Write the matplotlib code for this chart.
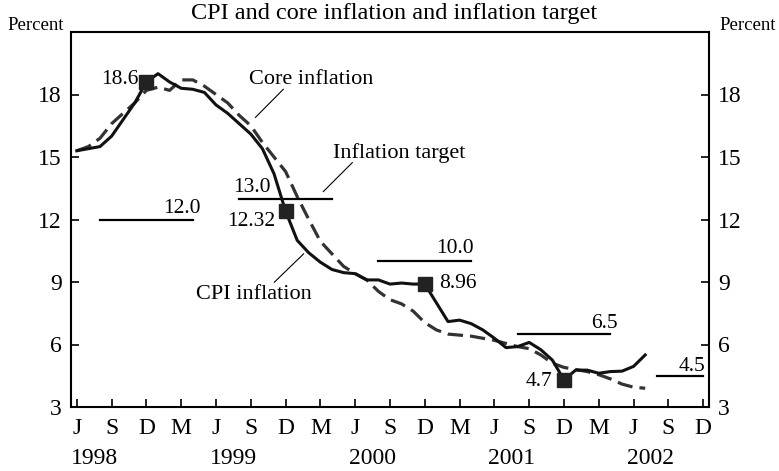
import matplotlib
matplotlib.use("Agg")
import matplotlib.pyplot as plt
import matplotlib.transforms as mtransforms

plt.rcParams['font.family'] = ['Liberation Serif', 'DejaVu Serif']

# Month index 0 = June 1998
months = list(range(50))
cpi = [15.3, 15.4, 15.5, 16.0, 16.8, 17.6, 18.6, 19.0, 18.6, 18.3,
       18.25, 18.1, 17.5, 17.1, 16.6, 16.1, 15.4, 14.2, 12.4, 11.0,
       10.4, 9.95, 9.6, 9.45, 9.4, 9.1, 9.1, 8.9, 8.95, 8.9,
       8.9, 8.0, 7.1, 7.17, 7.0, 6.7, 6.3, 5.85, 5.9, 6.1,
       5.75, 5.25, 4.3, 4.77, 4.77, 4.62, 4.7, 4.72, 4.95, 5.5]
core = [15.3, 15.5, 15.9, 16.6, 17.1, 17.6, 18.2, 18.35, 18.2, 18.7,
        18.7, 18.4, 18.0, 17.6, 17.0, 16.5, 15.7, 15.0, 14.3, 13.1,
        12.0, 10.95, 10.35, 9.75, 9.4, 9.1, 8.55, 8.15, 7.95, 7.6,
        7.05, 6.7, 6.5, 6.45, 6.4, 6.3, 6.2, 6.05, 5.9, 5.8,
        5.5, 5.1, 4.9, 4.8, 4.7, 4.55, 4.35, 4.1, 3.95, 3.9]

marker_months = [6, 18, 30, 42]
marker_labels = ['18.6', '12.32', '8.96', '4.7']

target_values = [12.0, 13.0, 10.0, 6.5, 4.5]
target_start = [2, 14, 26, 38, 50]
target_end = [10, 22, 34, 46, 54]
target_labels = ['12.0', '13.0', '10.0', '6.5', '4.5']

tick_months = list(range(0, 55, 3))
tick_labels = ['J', 'S', 'D', 'M'] * 4 + ['J', 'S', 'D']
years = ['1998', '1999', '2000', '2001', '2002']
year_pos = [1.5, 13.5, 25.5, 37.5, 49.5]
yticks = [3, 6, 9, 12, 15, 18]

fig = plt.figure(figsize=(7.79, 4.71), dpi=100)
ax = fig.add_axes([71/779, 1-407/471, (709-71)/779, (407-32)/471])

ax.plot(months, core, color='#333333', lw=2.3, dashes=(4.8, 2.2), zorder=2)
ax.plot(months, cpi, color='#111111', lw=2.2, zorder=3)
ax.plot(marker_months, [cpi[m] for m in marker_months], linestyle='none',
        marker='s', markersize=9.5, color='#222222', zorder=4)

for v, s, e in zip(target_values, target_start, target_end):
    ax.plot([s, e], [v, v], color='black', lw=1.6, zorder=2)

fs_num = 15.5
# target labels
ax.text(10.65, 12.55, target_labels[0], ha='right', va='center', fontsize=fs_num)
ax.text(13.5, 13.56, target_labels[1], ha='left', va='center', fontsize=fs_num)
ax.text(34.2, 10.63, target_labels[2], ha='right', va='center', fontsize=fs_num)
ax.text(46.6, 7.01, target_labels[3], ha='right', va='center', fontsize=fs_num)
ax.text(54.2, 4.93, target_labels[4], ha='right', va='center', fontsize=fs_num)

# marker labels
ax.text(5.3, 18.72, marker_labels[0], ha='right', va='center', fontsize=fs_num)
ax.text(17.1, 11.9, marker_labels[1], ha='right', va='center', fontsize=fs_num)
ax.text(31.2, 8.91, marker_labels[2], ha='left', va='center', fontsize=fs_num)
ax.text(41.0, 4.2, marker_labels[3], ha='right', va='center', fontsize=fs_num)

# series annotations
ax.text(20.2, 18.72, 'Core inflation', ha='center', va='center', fontsize=16)
ax.plot([15.4, 17.8], [16.9, 18.25], color='black', lw=0.8)
ax.text(27.8, 15.2, 'Inflation target', ha='center', va='center', fontsize=16)
ax.plot([21.25, 23.75], [13.34, 14.73], color='black', lw=0.8)
ax.text(15.25, 8.38, 'CPI inflation', ha='center', va='center', fontsize=16)
ax.plot([17.03, 19.55], [8.99, 10.35], color='black', lw=0.8)

ax.set_xlim(-0.5, 54.5)
ax.set_ylim(3, 21)
ax.set_xticks(tick_months)
ax.set_xticklabels(tick_labels, fontsize=17)
ax.set_yticks(yticks)
ax.set_yticklabels([str(v) for v in yticks], fontsize=17)
ax.tick_params(axis='x', direction='in', length=6, width=1.2, pad=8, top=False)
ax.tick_params(axis='y', direction='in', length=6, width=1.2, pad=6.5,
               left=True, right=True, labelleft=True, labelright=True)
for sp in ax.spines.values():
    sp.set_linewidth(1.5)

trans = mtransforms.blended_transform_factory(ax.transData, ax.transAxes)
for y, p in zip(years, year_pos):
    ax.text(p, -0.137, y, ha='center', va='center', fontsize=17, transform=trans)

fig.text(394/779, 1-14/471, 'CPI and core inflation and inflation target',
         ha='center', va='center', fontsize=17.5)
fig.text(7/779, 1-25/471, 'Percent', ha='left', va='center', fontsize=13.5)
fig.text(719/779, 1-25/471, 'Percent', ha='left', va='center', fontsize=13.5)

fig.savefig('out.png', dpi=100)
